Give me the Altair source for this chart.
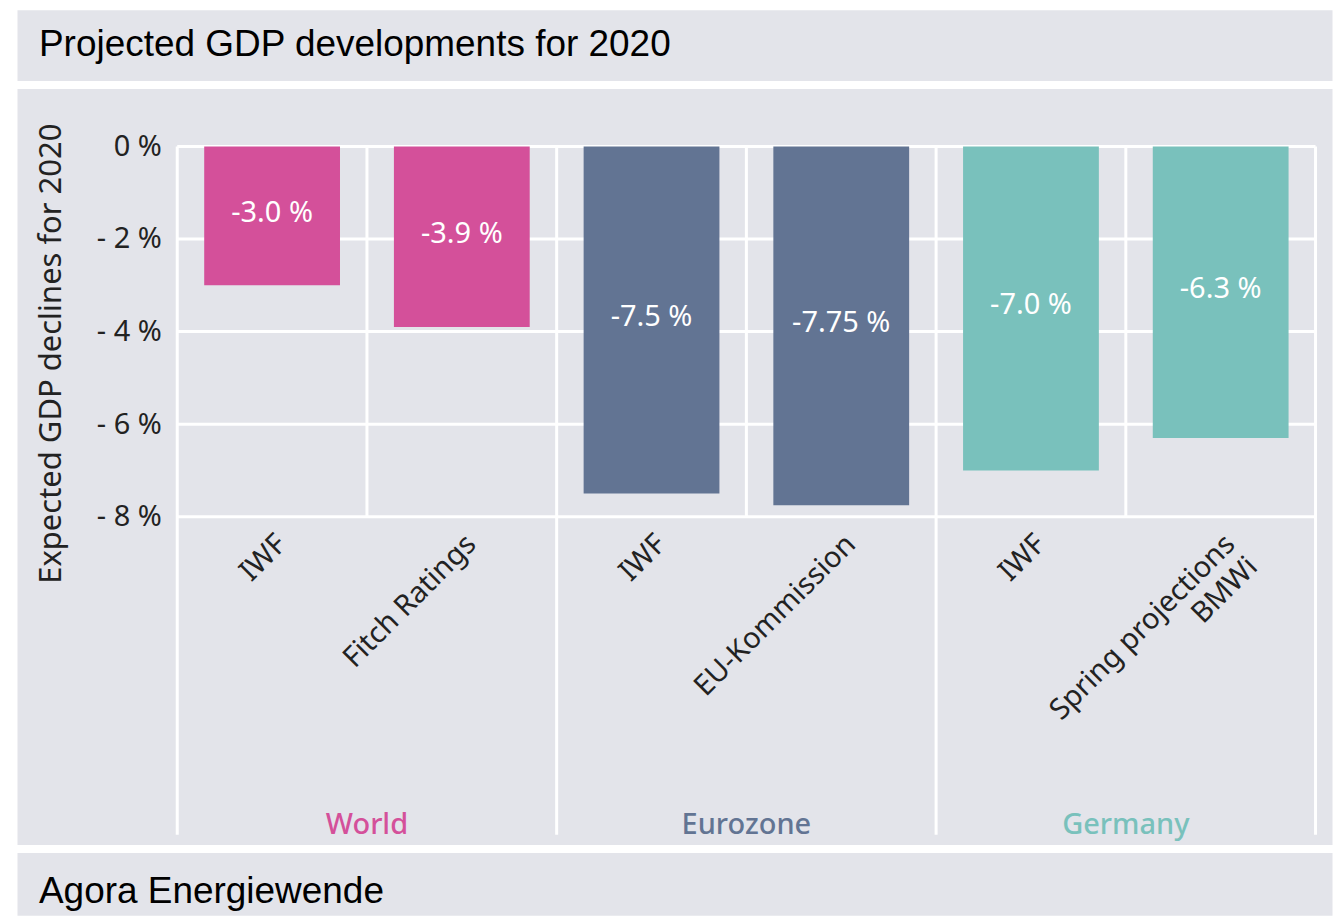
import altair as alt
import pandas as pd

# ---------------- data ----------------
title_text = "Projected GDP developments for 2020"
source_text = "Agora Energiewende"
y_title = "Expected GDP declines for 2020"

groups = ["World", "World", "Eurozone", "Eurozone", "Germany", "Germany"]
sources = ["IWF", "Fitch Ratings", "IWF", "EU-Kommission", "IWF", "Spring projections\nBMWi"]
values = [-3.0, -3.9, -7.5, -7.75, -7.0, -6.3]
value_labels = ["-3.0 %", "-3.9 %", "-7.5 %", "-7.75 %", "-7.0 %", "-6.3 %"]
group_names = ["World", "Eurozone", "Germany"]
group_colors = ["#D4509A", "#627493", "#79C1BC"]
y_ticks = [0, -2, -4, -6, -8]

# ---------------- layout ----------------
W = 1317
TITLE_H = 71
MAIN_H = 757
FOOT_H = 63
BG = "#E3E4EA"
FONT = "Noto Sans"
X_DOM = [-1.3447, 5.5868]
Y_DOM = [-15.08, 1.25]
CAT_LABEL_Y = -8.495
CAT_LABEL_DX = 0.05
GROUP_LABEL_Y = -14.67
GROUP_LINE_BOTTOM = -14.87

n = len(values)
pos = list(range(n))

bars = pd.DataFrame({
    "x": pos, "y": values, "group": groups, "label": value_labels,
    "mid": [v / 2 for v in values],
})
cats = pd.DataFrame({
    "x": [p + CAT_LABEL_DX for p in pos], "y": [CAT_LABEL_Y] * n, "src": sources,
})
gcent = []
for g in group_names:
    ps = [p for p, gg in zip(pos, groups) if gg == g]
    gcent.append(sum(ps) / len(ps))
glabels = pd.DataFrame({"x": gcent, "y": [GROUP_LABEL_Y] * len(group_names), "group": group_names})

hgrid = pd.DataFrame({"y": y_ticks, "x": [-0.5] * len(y_ticks), "x2": [n - 0.5] * len(y_ticks)})
vrows = []
for i in range(n + 1):
    is_group = i == 0 or i == n or groups[i] != groups[i - 1]
    vrows.append({"x": i - 0.5, "y": 0, "y2": GROUP_LINE_BOTTOM if is_group else y_ticks[-1]})
vgrid = pd.DataFrame(vrows)

xscale = alt.Scale(domain=X_DOM, nice=False, zero=False, padding=0)
yscale = alt.Scale(domain=Y_DOM, nice=False, zero=False, padding=0)
yaxis = alt.Axis(
    values=y_ticks, offset=-160.5, grid=False, ticks=False, domain=False,
    labelExpr="datum.value == 0 ? '0 %' : '- ' + abs(datum.value) + ' %'",
    labelFont=FONT, labelFontSize=29, labelColor="#222222", labelPadding=16,
    labelAlign="right", labelBaseline="middle",
    title=y_title, titleFont=FONT, titleFontSize=31, titleFontWeight="normal",
    titleColor="#222222", titleX=-126, titleY=265, titleAngle=270,
    titleAlign="center", titleBaseline="middle",
)
color = alt.Color("group:N", scale=alt.Scale(domain=group_names, range=group_colors), legend=None)


def X(f="x:Q"):
    return alt.X(f, scale=xscale, axis=None)


def Y(f="y:Q"):
    return alt.Y(f, scale=yscale, axis=yaxis)


hlines = alt.Chart(hgrid).mark_rule(color="white", strokeWidth=3).encode(
    x=X(), x2="x2:Q", y=Y())
vlines = alt.Chart(vgrid).mark_rule(color="white", strokeWidth=3).encode(
    x=X(), y=Y(), y2="y2:Q")
bar = alt.Chart(bars).mark_bar(size=136).encode(
    x=X(), y=Y(), y2=alt.datum(0), color=color)
barlab = alt.Chart(bars).mark_text(
    font=FONT, fontSize=29, color="white", baseline="middle", align="center", dy=-3
).encode(x=X(), y=Y("mid:Q"), text="label:N")
catlab = alt.Chart(cats).mark_text(
    font=FONT, fontSize=29, color="#222222", angle=315, align="right",
    baseline="middle", lineBreak="\n", lineHeight=32
).encode(x=X(), y=Y(), text="src:N")
grplab = alt.Chart(glabels).mark_text(
    font=FONT, fontSize=29, fontWeight=500, baseline="middle", align="center"
).encode(x=X(), y=Y(), text="group:N", color=color)

main = alt.layer(hlines, vlines, bar, barlab, catlab, grplab).properties(width=W, height=MAIN_H)

title_band = alt.Chart(pd.DataFrame({"t": [title_text]})).mark_text(
    font="Liberation Sans", fontSize=37, color="#000000", align="left", baseline="alphabetic"
).encode(text="t:N", x=alt.value(22), y=alt.value(46)).properties(width=W, height=TITLE_H)

foot_band = alt.Chart(pd.DataFrame({"t": [source_text]})).mark_text(
    font="Liberation Sans", fontSize=37, color="#000000", align="left", baseline="alphabetic"
).encode(text="t:N", x=alt.value(22), y=alt.value(51)).properties(width=W, height=FOOT_H)

chart = alt.vconcat(title_band, main, foot_band, spacing=6).properties(
    background="white", padding={"left": 8, "top": 0, "right": 0, "bottom": 0},
    autosize=alt.AutoSizeParams(type="pad")
).configure_view(fill=BG, stroke="transparent")

chart.save("out.html", embed_options={"renderer": "svg", "actions": False})
